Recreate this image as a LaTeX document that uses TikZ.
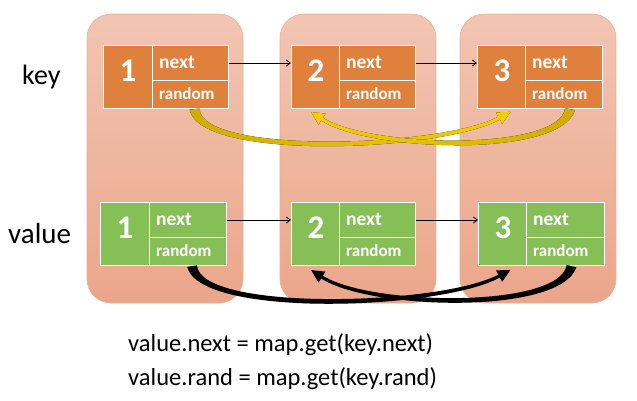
\documentclass[tikz,border=0pt]{standalone}
\usepackage{fontspec}
\setmainfont{Carlito}
\usetikzlibrary{calc,arrows.meta}
\definecolor{colTop}{HTML}{F2C5B3}
\definecolor{colBot}{HTML}{EBA68A}
\definecolor{colEdge}{HTML}{EDB095}
\definecolor{korange}{HTML}{E0803D}
\definecolor{vgreen}{HTML}{85BF55}
\definecolor{gold}{HTML}{CFAC00}
\definecolor{brightgold}{HTML}{F2D000}
\newcommand\taperarrow[5]{%
  \fill[#1] ($#2!5pt!90:#3$) .. controls ($#3!3.6pt!90:#4$) and ($#4!2.2pt!90:#5$) .. ($#5!1.6pt!-90:#4$)
    -- ($#5!6.5pt!-90:#4$) -- ($#5!-13pt!#4$) -- ($#5!6.5pt!90:#4$) -- ($#5!1.6pt!90:#4$)
    .. controls ($#4!2.2pt!-90:#5$) and ($#3!3.6pt!-90:#4$) .. ($#2!5pt!-90:#3$) -- cycle;}
\tikzset{
  colbox/.style={top color=colTop, bottom color=colBot, draw=colEdge, line width=0.6pt, rounded corners=24pt},
  cell/.style={draw=white, line width=1.1pt, inner sep=0pt, anchor=north west},
  numcell/.style={cell, minimum width=49pt, minimum height=63pt},
  nextcell/.style={cell, minimum width=76pt, minimum height=35pt},
  randcell/.style={cell, minimum width=76pt, minimum height=28pt},
  kcol/.style={fill=korange},
  vcol/.style={fill=vgreen},
  digit/.style={text=white, font=\fontsize{33}{33}\selectfont\bfseries, inner sep=0pt},
  nxttxt/.style={text=white, font=\fontsize{19.5}{20}\selectfont\bfseries, inner sep=0pt, anchor=west},
  rndtxt/.style={text=white, font=\fontsize{17}{18}\selectfont\bfseries, inner sep=0pt, anchor=west},
  biglabel/.style={font=\fontsize{29}{30}\selectfont, inner sep=0pt, anchor=base west},
  formula/.style={font=\fontsize{24.5}{26}\selectfont, inner sep=0pt, anchor=base west},
  nextarrow/.style={-{Straight Barb[length=4pt,width=6pt]}, line width=0.8pt, black},
  yarrowR/.style={left color=gold, right color=brightgold},
  yarrowL/.style={left color=brightgold, right color=gold},
  barrow/.style={fill=black}
}
\begin{document}
\begin{tikzpicture}[x=1pt,y=-1pt]
\useasboundingbox (0,0) rectangle (637,400);
\fill[white] (0,0) rectangle (637,400);
% columns
\shadedraw[colbox] (87,14) rectangle (243,303);
\shadedraw[colbox] (280,14) rectangle (436,303);
\shadedraw[colbox] (460,14) rectangle (616,303);
% row labels
\node[biglabel, font=\fontsize{28}{30}\selectfont] (keylbl) at (22,84) {key};
\node[biglabel] (vallbl) at (8,243) {value};
% key nodes
\node[numcell,kcol] (k1n) at (103,45) {};
\node[nextcell,kcol] (k1x) at (152,45) {};
\node[randcell,kcol] (k1r) at (152,80) {};
\node[numcell,kcol] (k2n) at (291,45) {};
\node[nextcell,kcol] (k2x) at (339,45) {};
\node[randcell,kcol] (k2r) at (339,80) {};
\node[numcell,kcol] (k3n) at (477,45) {};
\node[nextcell,kcol,minimum width=77pt] (k3x) at (525,45) {};
\node[randcell,kcol,minimum width=77pt] (k3r) at (525,80) {};
% value nodes
\node[numcell,vcol] (v1n) at (100,202) {};
\node[nextcell,vcol,minimum width=77pt] (v1x) at (149,202) {};
\node[randcell,vcol,minimum width=77pt] (v1r) at (149,237) {};
\node[numcell,vcol] (v2n) at (291,202) {};
\node[nextcell,vcol] (v2x) at (339,202) {};
\node[randcell,vcol] (v2r) at (339,237) {};
\node[numcell,vcol] (v3n) at (478,202) {};
\node[nextcell,vcol,minimum width=78pt] (v3x) at (526,202) {};
\node[randcell,vcol,minimum width=78pt] (v3r) at (526,237) {};
% texts in cells
\foreach \n/\d in {k1/1,k2/2,k3/3,v1/1,v2/2,v3/3}{
  \node[digit] (\n t) at ([yshift=6pt]\n n.center) {\d};
  \node[nxttxt] (\n xt) at ([xshift=7pt,yshift=1pt]\n x.west) {next};
  \node[rndtxt] (\n rt) at ([xshift=7pt,yshift=1pt]\n r.west) {random};
}
% next connectors
\draw[nextarrow] (k1x.east) -- (k1x.east -| k2n.west);
\draw[nextarrow] (k2x.east) -- (k2x.east -| k3n.west);
\draw[nextarrow] (v1x.east) -- (v1x.east -| v2n.west);
\draw[nextarrow] (v2x.east) -- (v2x.east -| v3n.west);
% random connectors (key)
\taperarrow{yarrowR}{([xshift=4pt]k1r.south)}{(200,158)}{(440,150)}{([xshift=-3pt,yshift=-9pt]k3n.south)}
\taperarrow{yarrowL}{([xshift=6pt]k3r.south)}{(560,155)}{(370,150)}{([xshift=6pt,yshift=-10pt]k2n.south)}
% random connectors (value)
\taperarrow{barrow}{([xshift=4pt]v1r.south)}{(200,315)}{(440,308)}{([xshift=-4pt,yshift=-10pt]v3n.south)}
\taperarrow{barrow}{([xshift=6pt]v3r.south)}{(560,312)}{(370,308)}{([xshift=6pt,yshift=-11pt]v2n.south)}
% formulas
\node[formula] (f1) at (128,351) {value.next = map.get(key.next)};
\node[formula] (f2) at (128,385) {value.rand = map.get(key.rand)};
\end{tikzpicture}
\end{document}
